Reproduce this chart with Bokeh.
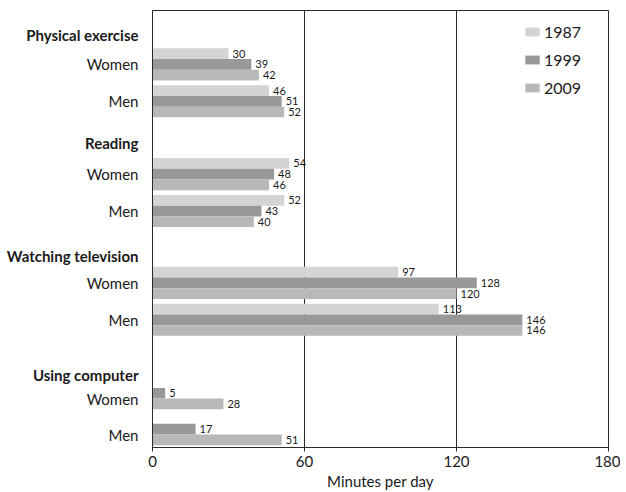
from bokeh.plotting import figure
from bokeh.models import (ColumnDataSource, Range1d, FixedTicker, LinearAxis, Legend, LegendItem)
from bokeh.core.properties import value
from bokeh.embed import file_html
from bokeh.resources import INLINE

# ---------------- data ----------------
activities = ["Physical exercise", "Reading", "Watching television", "Using computer"]
sexes = ["Women", "Men"]
years = ["1987", "1999", "2009"]
# minutes per day, order: (activity, sex) rows
v1987 = [30, 46, 54, 52, 97, 113, None, None]
v1999 = [39, 51, 48, 43, 128, 146, 5, 17]
v2009 = [42, 52, 46, 40, 120, 146, 28, 51]
x_ticks = [0, 60, 120, 180]
x_title = "Minutes per day"

# ---------------- layout (pixel-like units from frame top) ----------------
header_pos = [25, 133, 246, 365]
row_pos = [54, 91, 164, 201, 273, 310, 389, 425]
BAR_H = 10.7
colors = {"1987": "#d4d4d4", "1999": "#989898", "2009": "#b8b8b8"}
FONT = "Lato"

p = figure(width=620, height=492, output_backend="svg", toolbar_location=None,
           x_range=Range1d(0, 180), y_range=Range1d(438, 0),
           min_border_left=152, min_border_right=12, min_border_top=10,
           min_border_bottom=44)
p.background_fill_color = "white"
p.border_fill_color = "white"
p.outline_line_color = "#2a2a2a"
p.outline_line_width = 1

series = {"1987": v1987, "1999": v1999, "2009": v2009}
renderers = {}
for yi, yr in enumerate(years):
    ys, xs, labs = [], [], []
    for ri, row in enumerate(row_pos):
        present = [y for y in years if series[y][ri] is not None]
        val = series[yr][ri]
        if val is None:
            continue
        k = present.index(yr)
        off = (k - (len(present) - 1) / 2) * BAR_H
        ys.append(row + off)
        xs.append(val)
        labs.append(str(val))
    src = ColumnDataSource(dict(y=ys, x=xs, lab=labs))
    r = p.hbar(y="y", left=0, right="x", height=BAR_H, source=src,
               fill_color=colors[yr], line_color=None)
    renderers[yr] = r
    p.text(x="x", y="y", text="lab", source=src, x_offset=4, text_align="left",
           text_baseline="middle", text_font=value(FONT), text_font_size="11px",
           text_color="#1a1a1a")

# grid
p.ygrid.grid_line_color = None
p.xgrid.ticker = FixedTicker(ticks=[60, 120])
p.xgrid.grid_line_color = "#2a2a2a"
p.xgrid.grid_line_width = 1

# x axis
xa = p.xaxis[0]
xa.ticker = FixedTicker(ticks=x_ticks)
xa.minor_tick_line_color = None
xa.major_tick_in = 0
xa.major_tick_out = 4
xa.major_tick_line_color = "#2a2a2a"
xa.axis_line_color = "#2a2a2a"
xa.major_label_text_font = FONT
xa.major_label_text_font_size = "15px"
xa.major_label_text_color = "#1a1a1a"
xa.major_label_standoff = 4
xa.axis_label = x_title
xa.axis_label_text_font = FONT
xa.axis_label_text_font_size = "15px"
xa.axis_label_text_font_style = "normal"
xa.axis_label_text_color = "#1a1a1a"
xa.axis_label_standoff = 2

# y axis: Women / Men labels
ya = p.yaxis[0]
ya.ticker = FixedTicker(ticks=row_pos)
ya.major_label_overrides = {rp: sexes[i % 2] for i, rp in enumerate(row_pos)}
ya.major_tick_in = 0
ya.major_tick_out = 0
ya.minor_tick_line_color = None
ya.axis_line_color = "#2a2a2a"
ya.major_label_text_font = FONT
ya.major_label_text_font_size = "15px"
ya.major_label_text_color = "#1a1a1a"
ya.major_label_standoff = 14

# second (outer) left axis for the activity headers
ha = LinearAxis(ticker=FixedTicker(ticks=header_pos),
                major_label_overrides={hp: name for hp, name in zip(header_pos, activities)},
                major_tick_in=0, major_tick_out=0, minor_tick_line_color=None,
                axis_line_color=None, major_label_text_font=FONT,
                major_label_text_font_size="15px", major_label_text_font_style="bold",
                major_label_text_color="#1a1a1a", major_label_standoff=-55)
p.add_layout(ha, "left")

legend = Legend(items=[LegendItem(label=y, renderers=[renderers[y]]) for y in years],
                location=(371, 350), orientation="vertical",
                glyph_width=18, glyph_height=11, label_standoff=3,
                label_text_font=FONT, label_text_font_size="16px",
                label_text_color="#1a1a1a", label_height=20, spacing=8,
                padding=0, margin=0, border_line_color=None,
                background_fill_alpha=0)
p.add_layout(legend)

open("out.html", "w").write(file_html(p, INLINE))
